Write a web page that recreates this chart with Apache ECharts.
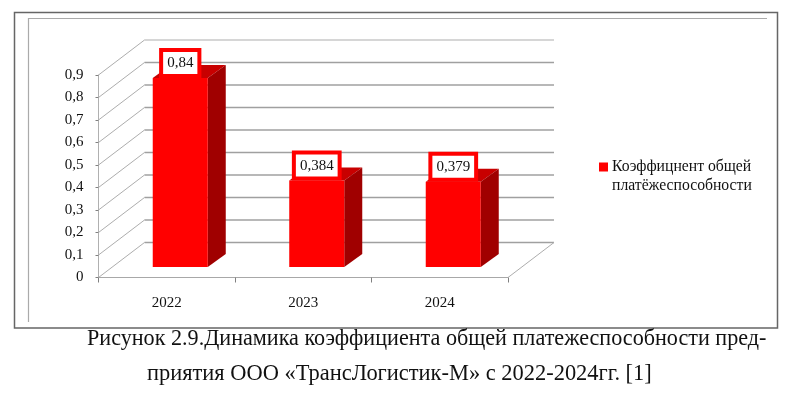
<!DOCTYPE html>
<html><head><meta charset="utf-8">
<style>html,body{margin:0;padding:0;background:#fff}#c{width:800px;height:407px}</style>
<script src="https://cdn.jsdelivr.net/npm/echarts@6/dist/echarts.min.js"></script>
</head><body><div id="c"></div>
<script>
const categories = ['2022', '2023', '2024'];
const values = [0.84, 0.384, 0.379];
const valueLabels = ['0,84', '0,384', '0,379'];
const gridTicks = [0, 0.1, 0.2, 0.3, 0.4, 0.5, 0.6, 0.7, 0.8, 0.9];
const legendLine1 = 'Коэффицнент общей';
const legendLine2 = 'платёжеспособности';
const captionLine1 = 'Рисунок 2.9.Динамика коэффициента общей платежеспособности пред-';
const captionLine2 = 'приятия ООО «ТрансЛогистик-М» с 2022-2024гг. [1]';

const SERIF = '"Liberation Serif","Times New Roman",serif';
const wallDX = 46, wallDY = -35, barDX = 18, barDY = -13, barShiftX = 13.5, barShiftY = -10.5;
const chart = echarts.init(document.getElementById('c'), null, {renderer: 'canvas'});

function renderWall(params, api) {
  const cs = params.coordSys;
  const v = api.value(0);
  const y = api.coord([0, v])[1];
  const x0 = cs.x, x1 = cs.x + cs.width;
  const diag = {stroke: '#adadad', lineWidth: 1, fill: null};
  const horiz = {stroke: '#a0a0a0', lineWidth: 1.4, fill: null};
  const children = [
    {type: 'line', shape: {x1: x0, y1: y, x2: x0 + wallDX, y2: y + wallDY}, style: diag},
    {type: 'line', shape: {x1: x0 + wallDX, y1: y + wallDY, x2: x1 + wallDX, y2: y + wallDY}, style: v === 0.9 ? diag : horiz}
  ];
  if (v === 0) children.push({type: 'line', shape: {x1: x1, y1: y, x2: x1 + wallDX, y2: y + wallDY}, style: diag});
  return {type: 'group', children};
}
function renderBar(params, api) {
  const i = api.value(0), v = api.value(1);
  const top = api.coord([i, v]), base = api.coord([i, 0]);
  const w = api.size([1, 0])[0] * 0.403;
  const l = top[0] + barShiftX - w / 2, r = l + w;
  const t = top[1] + barShiftY, b = base[1] + barShiftY;
  return {type: 'group', children: [
    {type: 'polygon', shape: {points: [[l, t], [r, t], [r + barDX, t + barDY], [l + barDX, t + barDY]]}, style: {fill: '#c80000'}},
    {type: 'polygon', shape: {points: [[r, t], [r + barDX, t + barDY], [r + barDX, b + barDY], [r, b]]}, style: {fill: '#a00000'}},
    {type: 'rect', shape: {x: l, y: t, width: w, height: b - t}, style: {fill: '#ff0000'}},
    {type: 'text', x: (l + r) / 2, y: t - 4, style: {
      text: valueLabels[i], font: '15px ' + SERIF, fill: '#111', align: 'center', verticalAlign: 'bottom',
      backgroundColor: '#fff', borderColor: '#ff0000', borderWidth: 4, padding: [4, 4, 3, 4]
    }}
  ]};
}
chart.setOption({
  backgroundColor: '#fff',
  animation: false,
  grid: {left: 98.5, top: 75, width: 409.5, height: 202.5, containLabel: false},
  legend: {
    data: [legendLine1], left: 599, top: 159, icon: 'rect', itemWidth: 9, itemHeight: 9, itemGap: 0,
    selectedMode: false, padding: 0,
    textStyle: {fontFamily: SERIF, fontSize: 15.7, color: '#111', padding: [0, 0, 0, -1]}
  },
  xAxis: {
    type: 'category', data: categories,
    axisLine: {lineStyle: {color: '#a8a8a8'}},
    axisTick: {show: true, length: 5, alignWithLabel: false, lineStyle: {color: '#808080'}},
    axisLabel: {fontFamily: SERIF, fontSize: 15, color: '#111', margin: 18}
  },
  yAxis: {
    type: 'value', min: 0, max: 0.9, interval: 0.1,
    splitLine: {show: false},
    axisLine: {show: true, lineStyle: {color: '#b0b0b0'}},
    axisTick: {show: true, length: 3, lineStyle: {color: '#808080'}},
    axisLabel: {fontFamily: SERIF, fontSize: 15, color: '#111', margin: 15, padding: [3, 0, 0, 0],
      formatter: v => String(Math.round(v * 10) / 10).replace('.', ',')}
  },
  series: [
    {type: 'custom', name: 'wall', silent: true, z: 1, data: gridTicks.map(v => [v]), encode: {y: 0}, renderItem: renderWall, clip: false},
    {type: 'custom', name: legendLine1, z: 3, itemStyle: {color: '#ff0000'}, data: values.map((v, i) => [i, v]), encode: {x: 0, y: 1}, renderItem: renderBar, clip: false}
  ],
  graphic: [
    {type: 'rect', silent: true, shape: {x: 14.5, y: 12.5, width: 763, height: 315.5}, style: {fill: null, stroke: '#666', lineWidth: 1.5}, z: 0},
    {type: 'polyline', silent: true, shape: {points: [[28.5, 322], [28.5, 18.5], [767, 18.5]]}, style: {fill: null, stroke: '#aaa', lineWidth: 1.2}, z: 0},
    {type: 'text', left: 612, top: 178, style: {text: legendLine2, font: '15.7px ' + SERIF, fill: '#111'}},
    {type: 'text', left: 87, top: 328, style: {text: captionLine1, font: '22.15px ' + SERIF, fill: '#111'}},
    {type: 'text', left: 147, top: 363, style: {text: captionLine2, font: '22.45px ' + SERIF, fill: '#111'}}
  ]
});
</script></body></html>
